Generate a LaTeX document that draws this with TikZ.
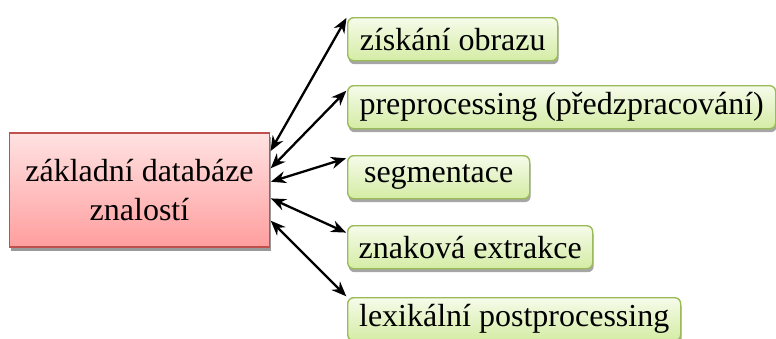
\documentclass[tikz,border=0pt]{standalone}
\usepackage{fontspec}
\setmainfont{Liberation Serif}
\usetikzlibrary{shadows,arrows.meta}
\definecolor{pinkTop}{HTML}{FFE2E2}
\definecolor{pinkBot}{HTML}{FF9E9E}
\definecolor{pinkLine}{HTML}{C0504D}
\definecolor{greenTop}{HTML}{F6FBEA}
\definecolor{greenBot}{HTML}{D4ECA4}
\definecolor{greenLine}{HTML}{9BBB59}
\tikzset{
  dbbox/.style={draw=pinkLine, line width=1.4pt, top color=pinkTop, bottom color=pinkBot,
    drop shadow={shadow xshift=1pt, shadow yshift=-3.5pt, fill=black!40, opacity=1},
    minimum width=260pt, minimum height=114pt, align=center, inner sep=0pt,
    font=\fontsize{32}{39}\selectfont},
  stagebox/.style={draw=greenLine, line width=1.4pt, top color=greenTop, bottom color=greenBot,
    rounded corners=6pt,
    drop shadow={shadow xshift=1pt, shadow yshift=-3.5pt, fill=black!35, opacity=1},
    minimum height=43pt, anchor=north west, inner sep=0pt,
    font=\fontsize{32}{39}\selectfont},
  conn/.style={{Stealth[length=15pt,width=12pt]}-{Stealth[length=15pt,width=12pt]}, line width=2.3pt, shorten <=1pt, shorten >=1pt}
}
\begin{document}
\begin{tikzpicture}[x=1pt,y=-1pt]
\useasboundingbox (0,0) rectangle (776,338);
\node[dbbox] (db) at (139.5,190) {základní databáze\\znalostí};
\node[stagebox, minimum width=210pt] (s1) at (347,17) {získání obrazu};
\node[stagebox, minimum width=428pt] (s2) at (347,85) {preprocessing (předzpracování)};
\node[stagebox, minimum width=182pt] (s3) at (347,155) {segmentace};
\node[stagebox, minimum width=245pt] (s4) at (347,225) {znaková extrakce};
\node[stagebox, minimum width=333pt] (s5) at (347,297) {lexikální postprocessing};
\coordinate (a1) at (270,152);
\coordinate (a2) at (270,169);
\coordinate (a3) at (270,182);
\coordinate (a4) at (270,198);
\coordinate (a5) at (270,220);
\draw[conn] (a1) -- (s1.north west);
\draw[conn] (a2) -- ([yshift=-5pt]s2.north west);
\draw[conn] (a3) -- ([yshift=-3pt]s3.north west);
\draw[conn] (a4) -- ([yshift=-8pt]s4.north west);
\draw[conn] (a5) -- (s5.north west);
\end{tikzpicture}
\end{document}
